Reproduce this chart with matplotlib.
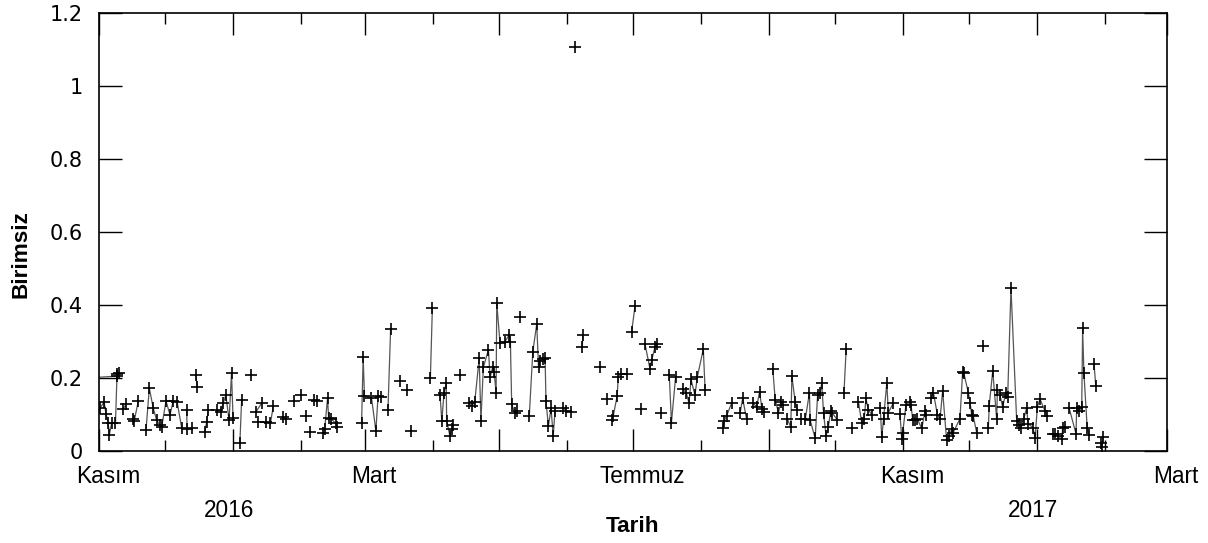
import numpy as np
import matplotlib
matplotlib.use("Agg")
import matplotlib.pyplot as plt
import matplotlib.dates as mdates
import matplotlib.transforms as mtransforms
from matplotlib.ticker import FuncFormatter

plt.rcParams['font.family'] = ['Liberation Sans', 'DejaVu Sans']

start_date = '2015-11-01'
N = None  # line break between groups

# day offsets from start_date and values (None = break in the connecting line)
days = [
    -6, 8.0, N,
    0.5, 2.3, 3.2, 4.2, 4.7, 5.8, 7.5, 8.2, 9.2, N,
    11, 12.3, N,
    15.3, 16, 17.9, N,
    21.4, 22.9, 24.7, 26.2, 27.7, 28.5, 30.5, 32.3, 33.8, 35.6, 37.6, N,
    39.9, 40.1, 42.1, N,
    44.1, 44.7, N,
    48.2, 49, 49.7, N,
    53.5, 55.5, 56.5, 57.7, 59.2, 60.3, 61, N,
    64.1, 64.9, N,
    69, N,
    71.5, 74, N,
    72.5, N,
    76, 78, 79.3, N,
    83.8, 85, N,
    88.8, N, 91.7, N, 94, N, 96, N,
    97.9, 99.2, N,
    102, 102.7, 104, 104.5, 105.8, 107.7, 108.5, N,
    119.5, 120.2, 120.8, 124, 126, 127, 128.2, N,
    131.5, 132.7, N,
    137.1, N, 140, N, 142.1, N,
    150.8, 151.7, N,
    155.2, 156, 157, 158, 158.2, 159.7, 160.5, 161.2, N,
    164.3, N,
    168.5, 169.6, 171, 173, 173.8, 174.9, 177.2, 178, 179.2, 179.8, 180.7, 181,
    182.5, 184.7, 186.7, 187.2, 187.8, 189.3, 190, N,
    191.6, N,
    195.8, 197.4, 199.2, 200, 200.7, 202, 203, 203.4, 204.5, 205.7, 206.7, 207.5, N,
    211.3, 212.5, 215, N,
    216.6, N,
    219.9, 220.2, N,
    228, N,
    231, N,
    233.3, 234, 235.8, 236.3, 237.4, 240.1, N,
    242.4, 243.9, N,
    246.6, N,
    248.5, 250.7, 251.5, 253, 254, N,
    255.7, N,
    259.5, 260.5, 262.4, N,
    265.8, 267.3, 268.5, 269.4, 271.2, 272.3, 275, 275.8, N,
    283.8, 284.5, 285.6, 287.9, N,
    291.7, 292.9, 294.7, N,
    297.5, 299.3, 300.6, 301.7, 302.7, N,
    306.6, 307.7, 309.2, 310.3, 311.2, N,
    313.3, 314.8, 315.3, 316.8, 317.8, N,
    319.4, 321.4, 323.3, 323.6, 325.9, 327, 328.2, 328.9, 329.7, 330.9, 331.9, 333,
    333.6, 336, N,
    339, 340, N,
    342.5, N,
    345.6, 347.1, 348.2, 349, 350.1, 351.7, N,
    355.5, 356.2, 357, 358.5, 359.2, 361.5, N,
    364.5, 365.3, 365.7, 367.2, 369, 369.5, 370.3, 371.4, 372.4, 374.4, 375.9, 376.5, N,
    378.5, 379.7, 381.5, 382.7, 383.9, 385.7, 386.9, 388, 388.7, 391.8, 393, 393.5,
    395.6, 396.4, 397.1, 397.8, 399.4, N,
    402.4, N,
    404.7, 405.1, 406.7, 408.5, 408.8, 410, 411.2, 412.7, 413.5, 415, 417.6, 418.8,
    419.5, 420.9, 422.1, 422.8, 425, 426, 427, 428.2, 430.5, 431.5, N,
    434.3, 435, 436.5, 438.1, 438.5, 439.6, N,
    441.5, 444.6, 444.9, 446, 447.2, 447.6, 448.2, 449.7, 450.6, N,
    452.8, 453.6, N,
    455.8, 456.3, 457,
]

values = [
    0.200, 0.205, N,
    0.117, 0.135, 0.101, 0.078, 0.044, 0.078, 0.078, 0.210, 0.215, N,
    0.115, 0.128, N,
    0.088, 0.082, 0.137, N,
    0.058, 0.172, 0.117, 0.085, 0.071, 0.065, 0.137, 0.099, 0.137, 0.133, 0.064, N,
    0.112, 0.059, 0.062, N,
    0.208, 0.176, N,
    0.053, 0.080, 0.112, N,
    0.112, 0.108, 0.131, 0.153, 0.085, 0.213, 0.090, N,
    0.021, 0.140, N,
    0.208, N,
    0.108, 0.131, N,
    0.080, N,
    0.080, 0.076, 0.122, N,
    0.092, 0.088, N,
    0.136, N, 0.154, N, 0.096, N, 0.052, N,
    0.140, 0.138, N,
    0.048, 0.060, 0.145, 0.090, 0.087, 0.076, 0.067, N,
    0.076, 0.258, 0.151, 0.146, 0.055, 0.152, 0.148, N,
    0.113, 0.334, N,
    0.192, N, 0.168, N, 0.056, N,
    0.201, 0.392, N,
    0.153, 0.083, 0.158, 0.187, 0.083, 0.041, 0.059, 0.071, N,
    0.208, N,
    0.131, 0.123, 0.135, 0.254, 0.083, 0.229, 0.277, 0.202, 0.231, 0.217, 0.158, 0.405,
    0.295, 0.300, 0.318, 0.300, 0.128, 0.103, 0.110, N,
    0.366, N,
    0.096, 0.272, 0.348, 0.231, 0.247, 0.251, 0.254, 0.137, 0.068, 0.117, 0.041, 0.110, N,
    0.119, 0.110, 0.108, N,
    1.107, N,
    0.284, 0.318, N,
    0.229, N,
    0.142, N,
    0.085, 0.096, 0.151, 0.204, 0.211, 0.212, N,
    0.327, 0.397, N,
    0.114, N,
    0.292, 0.226, 0.249, 0.285, 0.292, N,
    0.103, N,
    0.208, 0.078, 0.204, N,
    0.169, 0.158, 0.131, 0.196, 0.153, 0.204, 0.279, 0.167, N,
    0.062, 0.083, 0.096, 0.132, N,
    0.103, 0.144, 0.087, N,
    0.132, 0.121, 0.163, 0.114, 0.108, N,
    0.226, 0.140, 0.105, 0.135, 0.125, N,
    0.087, 0.065, 0.205, 0.135, 0.112, N,
    0.087, 0.087, 0.160, 0.085, 0.035, 0.153, 0.158, 0.187, 0.103, 0.041, 0.067, 0.110,
    0.105, 0.085, N,
    0.160, 0.279, N,
    0.064, N,
    0.135, 0.076, 0.087, 0.144, 0.112, 0.100, N,
    0.119, 0.037, 0.087, 0.187, 0.105, 0.132, N,
    0.101, 0.032, 0.048, 0.126, 0.135, 0.126, 0.085, 0.085, 0.087, 0.062, 0.110, 0.099, N,
    0.144, 0.160, 0.100, 0.087, 0.165, 0.030, 0.040, 0.059, 0.050, 0.089, 0.217, 0.214,
    0.160, 0.132, 0.100, 0.097, 0.050, N,
    0.288, N,
    0.062, 0.124, 0.220, 0.087, 0.166, 0.153, 0.121, 0.160, 0.148, 0.447, 0.082, 0.071,
    0.062, 0.089, 0.118, 0.075, 0.064, 0.035, 0.121, 0.142, 0.110, 0.096, N,
    0.047, 0.047, 0.041, 0.032, 0.062, 0.067, N,
    0.117, 0.047, 0.117, 0.110, 0.120, 0.336, 0.213, 0.062, 0.044, N,
    0.238, 0.178, N,
    0.021, 0.010, 0.037,
]

month_names = {11: 'Kasım', 3: 'Mart', 7: 'Temmuz'}
year_labels = ['2016', '2017']
x_start, x_end = '2015-11-01', '2017-03-01'
y_ticks = [0, 0.2, 0.4, 0.6, 0.8, 1.0, 1.2]
y_ticklabels = ['0', '0.2', '0.4', '0.6', '0.8', '1', '1.2']

t0 = mdates.datestr2num(start_date)
x = np.array([np.nan if d is None else t0 + d for d in days], dtype=float)
y = np.array([np.nan if v is None else v for v in values], dtype=float)

fig = plt.figure(figsize=(12.08, 5.43), dpi=100)
ax = fig.add_axes([99 / 1208, 1 - 451 / 543, (1167 - 99) / 1208, (451 - 13) / 543])

ax.plot(x, y, '-', color='#555555', lw=0.9, zorder=2)
ax.plot(x, y, '+', color='black', ms=8, mew=1.2, zorder=3, linestyle='none')

ax.set_xlim(mdates.datestr2num(x_start), mdates.datestr2num(x_end))
ax.set_ylim(0, 1.2)

ax.xaxis.set_major_locator(mdates.MonthLocator(bymonth=[1, 3, 5, 7, 9, 11]))
ax.xaxis.set_minor_locator(mdates.MonthLocator())


def fmt(val, pos):
    dt = mdates.num2date(val)
    return month_names.get(dt.month, '')


ax.xaxis.set_major_formatter(FuncFormatter(fmt))
ax.set_yticks(y_ticks)
ax.set_yticklabels(y_ticklabels, family='DejaVu Sans', fontsize=15)

ax.tick_params(axis='both', which='major', direction='in', top=True, right=True,
               width=1.0, color='black')
ax.tick_params(axis='x', which='major', length=15.8, pad=10, labelsize=16.3)
ax.tick_params(axis='y', which='major', length=16.5, pad=11.5)
ax.tick_params(axis='x', which='minor', direction='in', top=True, length=7.9, width=1.0)
for lab in ax.get_yticklabels():
    lab.set_family('DejaVu Sans')
    lab.set_fontsize(15)

offset = mtransforms.ScaledTranslation(9 / 100, 0, fig.dpi_scale_trans)
for lab in ax.get_xticklabels():
    lab.set_transform(lab.get_transform() + offset)

for sp in ax.spines.values():
    sp.set_linewidth(1.2)

trans = mtransforms.blended_transform_factory(ax.transData, ax.transAxes)
for yr in year_labels:
    ax.text(mdates.datestr2num(yr + '-01-01') - 2, -0.135, yr, transform=trans,
            ha='center', va='center', fontsize=16.3)

fig.text(633 / 1208, 1 - 526 / 543, 'Tarih', fontsize=16.2, fontweight='bold',
         ha='center', va='center')
fig.text(21 / 1208, 1 - 254 / 543, 'Birimsiz', fontsize=16.2, fontweight='bold',
         ha='center', va='center', rotation=90)

fig.savefig('out.png', dpi=100)
